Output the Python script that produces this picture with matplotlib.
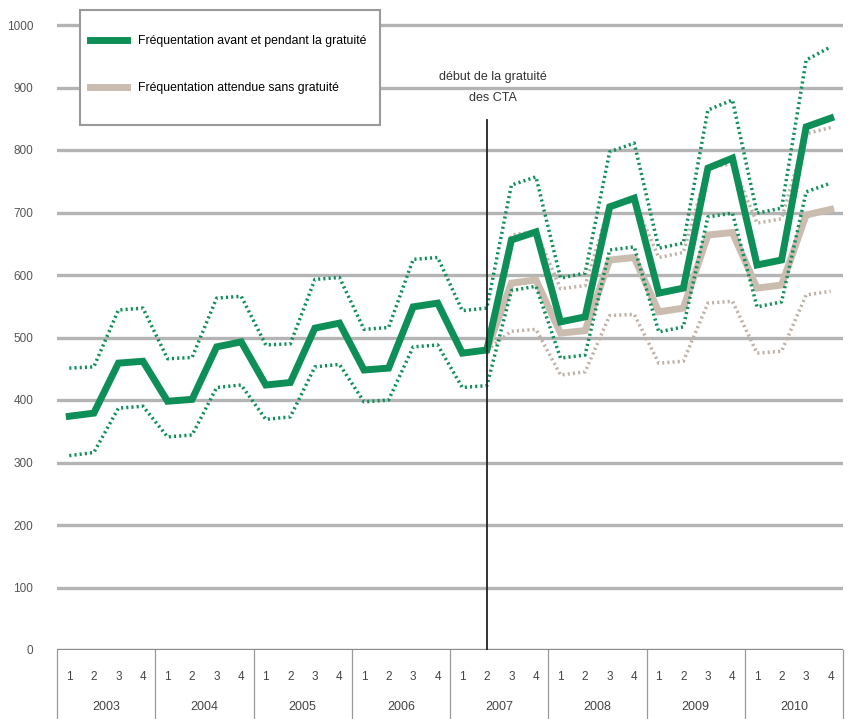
import matplotlib
matplotlib.use("Agg")
import matplotlib.pyplot as plt
import matplotlib.transforms as mtransforms
from matplotlib.patches import Rectangle
import numpy as np

plt.rcParams['font.family'] = ['Liberation Sans', 'DejaVu Sans']

# quarterly ridership, 2003 Q1 .. 2010 Q4
years = ['2003', '2004', '2005', '2006', '2007', '2008', '2009', '2010']
quarters = ['1', '2', '3', '4']

freq_main = [374, 379, 459, 462, 398, 401, 485, 493, 424, 428, 515, 523,
             448, 451, 549, 555, 475, 480, 656, 669, 525, 533, 709, 723,
             571, 579, 771, 787, 616, 624, 837, 851]
freq_high = [451, 453, 544, 547, 466, 468, 563, 566, 488, 490, 593, 596,
             513, 516, 625, 628, 543, 547, 744, 757, 595, 603, 797, 811,
             643, 651, 864, 880, 699, 707, 944, 965]
freq_low = [311, 316, 387, 390, 341, 344, 420, 424, 369, 373, 453, 457,
            397, 400, 485, 488, 420, 423, 575, 582, 467, 472, 640, 645,
            509, 517, 693, 699, 549, 557, 733, 747]

# expected ridership without free transport, from 2007 Q2
nan = np.nan
exp_main = [nan] * 17 + [480, 587, 592, 507, 511, 624, 628, 541, 547,
                         664, 668, 579, 584, 696, 705]
exp_high = [nan] * 17 + [480, 664, 670, 578, 583, 712, 718, 628, 636,
                         772, 778, 683, 690, 826, 836]
exp_low = [nan] * 17 + [480, 510, 513, 440, 445, 535, 537, 459, 462,
                        555, 558, 475, 478, 568, 574]

start_idx = 17  # 2007 Q2
yticks = list(range(0, 1001, 100))

GREEN = '#0e8f58'
BEIGE = '#cbbcb0'
BEIGE_DOT = '#bfb1a5'
GRID = '#b4b4b4'

x = np.arange(len(freq_main))

W, H = 849, 719
fig = plt.figure(figsize=(8.49, 7.19), dpi=100)
ax = fig.add_axes([57 / W, 1 - 650 / H, (843 - 57) / W, (650 - 12.5) / H])

# grid
for v in yticks[1:]:
    ax.axhline(v, color=GRID, lw=2.4, zorder=1)
ax.axhline(0, color='#8a8a8a', lw=2.4, zorder=1)

dots = (0, (0.6, 0.9))
# expected without free transport
ax.plot(x, exp_high, color=BEIGE_DOT, lw=2.5, ls=dots, zorder=2)
ax.plot(x, exp_low, color=BEIGE_DOT, lw=2.5, ls=dots, zorder=2)
ax.plot(x, exp_main, color=BEIGE, lw=5, zorder=3, solid_joinstyle='miter',
        label='Fréquentation attendue sans gratuité')
# actual
ax.plot(x, freq_high, color=GREEN, lw=2.5, ls=dots, zorder=4)
ax.plot(x, freq_low, color=GREEN, lw=2.5, ls=dots, zorder=4)
ax.plot(x, freq_main, color=GREEN, lw=5, zorder=5, solid_joinstyle='miter',
        label='Fréquentation avant et pendant la gratuité')

ax.set_xlim(-0.5, len(x) - 0.5)
ax.set_ylim(0, 1020)
ax.set_yticks(yticks)
ax.set_yticklabels([str(v) for v in yticks], fontsize=8.5, color='#555555')
ax.tick_params(axis='y', length=0, pad=17)
ax.set_xticks([])
for s in ax.spines.values():
    s.set_visible(False)

# start of free transport
ax.plot([start_idx, start_idx], [0, 848], color='#222222', lw=1.3, zorder=6)
ax.text(start_idx + 0.25, 900, 'début de la gratuité\ndes CTA', ha='center', va='center',
        fontsize=9, color='#333333', linespacing=2.1)

# x axis labels: quarters and years
trans = mtransforms.blended_transform_factory(ax.transData, ax.transAxes)
for i in range(len(x)):
    ax.text(i, -0.043, quarters[i % 4], transform=trans, ha='center', va='center',
            fontsize=8.5, color='#444444')
for k, yr in enumerate(years):
    ax.text(4 * k + 1.5, -0.09, yr, transform=trans, ha='center', va='center',
            fontsize=9, color='#444444')
for k in range(len(years) + 1):
    ax.plot([4 * k - 0.5, 4 * k - 0.5], [0, -0.11], transform=trans, color='#999999',
            lw=0.9, clip_on=False)

# legend box drawn by hand so it can be taller than the entries need
ax.add_patch(Rectangle((80 / W, 1 - 125 / H), 300 / W, 115 / H,
                       transform=fig.transFigure, facecolor='white',
                       edgecolor='#9a9a9a', lw=1.5, zorder=9, clip_on=False))
handles, labels = ax.get_legend_handles_labels()
leg = ax.legend(handles[::-1], labels[::-1], loc='upper left',
                bbox_to_anchor=(90 / W, 1 - 35 / H), bbox_transform=fig.transFigure,
                fontsize=8.8, frameon=False, handlelength=3.0,
                labelspacing=2.9, borderpad=0, handletextpad=0.9, borderaxespad=0)
leg.set_zorder(10)

fig.savefig('out.png', dpi=100)
